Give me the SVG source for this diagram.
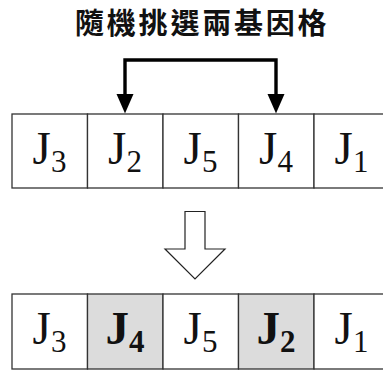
<svg xmlns="http://www.w3.org/2000/svg" width="383" height="372" viewBox="0 0 383 372">
  <style>
    .title { font-family: "Noto Sans CJK TC", "Noto Sans CJK SC", sans-serif; font-size: 29px; font-weight: bold; fill: #111; letter-spacing: 2.8px; }
    .cell { fill: #ffffff; stroke: #333333; stroke-width: 1.3; }
    .cell.hi { fill: #dcdcdc; }
    .gene { font-family: "Liberation Serif", "Times New Roman", serif; font-size: 47px; fill: #111; text-anchor: middle; }
    .gene .sub { font-size: 31px; }
    .gene.bold { font-weight: bold; }
    .link { fill: none; stroke: #000; stroke-width: 3.4; }
    .flow { fill: #ffffff; stroke: #222; stroke-width: 1.2; }
  </style>

  <text class="title" x="75" y="33.5">隨機挑選兩基因格</text>

  <!-- upper chromosome -->
  <g id="row-before">
    <g id="b1"><rect class="cell" x="12" y="114" width="75.5" height="74"/><text class="gene" x="49.5" y="164">J<tspan class="sub" dy="8">3</tspan></text></g>
    <g id="b2"><rect class="cell" x="87.5" y="114" width="75.5" height="74"/><text class="gene" x="125" y="164">J<tspan class="sub" dy="8">2</tspan></text></g>
    <g id="b3"><rect class="cell" x="163" y="114" width="75.5" height="74"/><text class="gene" x="200.5" y="164">J<tspan class="sub" dy="8">5</tspan></text></g>
    <g id="b4"><rect class="cell" x="238.5" y="114" width="75.5" height="74"/><text class="gene" x="276" y="164">J<tspan class="sub" dy="8">4</tspan></text></g>
    <g id="b5"><rect class="cell" x="314" y="114" width="75.5" height="74"/><text class="gene" x="351.5" y="164">J<tspan class="sub" dy="8">1</tspan></text></g>
  </g>

  <!-- lower chromosome after swap -->
  <g id="row-after">
    <g id="a1"><rect class="cell" x="12" y="294" width="75.5" height="75"/><text class="gene" x="49.5" y="344">J<tspan class="sub" dy="8">3</tspan></text></g>
    <g id="a2"><rect class="cell hi" x="87.5" y="294" width="75.5" height="75"/><text class="gene bold" x="125" y="344">J<tspan class="sub" dy="8">4</tspan></text></g>
    <g id="a3"><rect class="cell" x="163" y="294" width="75.5" height="75"/><text class="gene" x="200.5" y="344">J<tspan class="sub" dy="8">5</tspan></text></g>
    <g id="a4"><rect class="cell hi" x="238.5" y="294" width="75.5" height="75"/><text class="gene bold" x="276" y="344">J<tspan class="sub" dy="8">2</tspan></text></g>
    <g id="a5"><rect class="cell" x="314" y="294" width="75.5" height="75"/><text class="gene" x="351.5" y="344">J<tspan class="sub" dy="8">1</tspan></text></g>
  </g>

  <g id="connectors">
    <path class="link" d="M125,96 V60 H276 V96"/>
    <path d="M116.5,94 L133.5,94 L125,113.5 Z" fill="#000"/>
    <path d="M267.5,94 L284.5,94 L276,113.5 Z" fill="#000"/>
    <path class="flow" d="M185,211.5 H205 V249 H225 L195,279 L165,249 H185 Z"/>
  </g>
</svg>
